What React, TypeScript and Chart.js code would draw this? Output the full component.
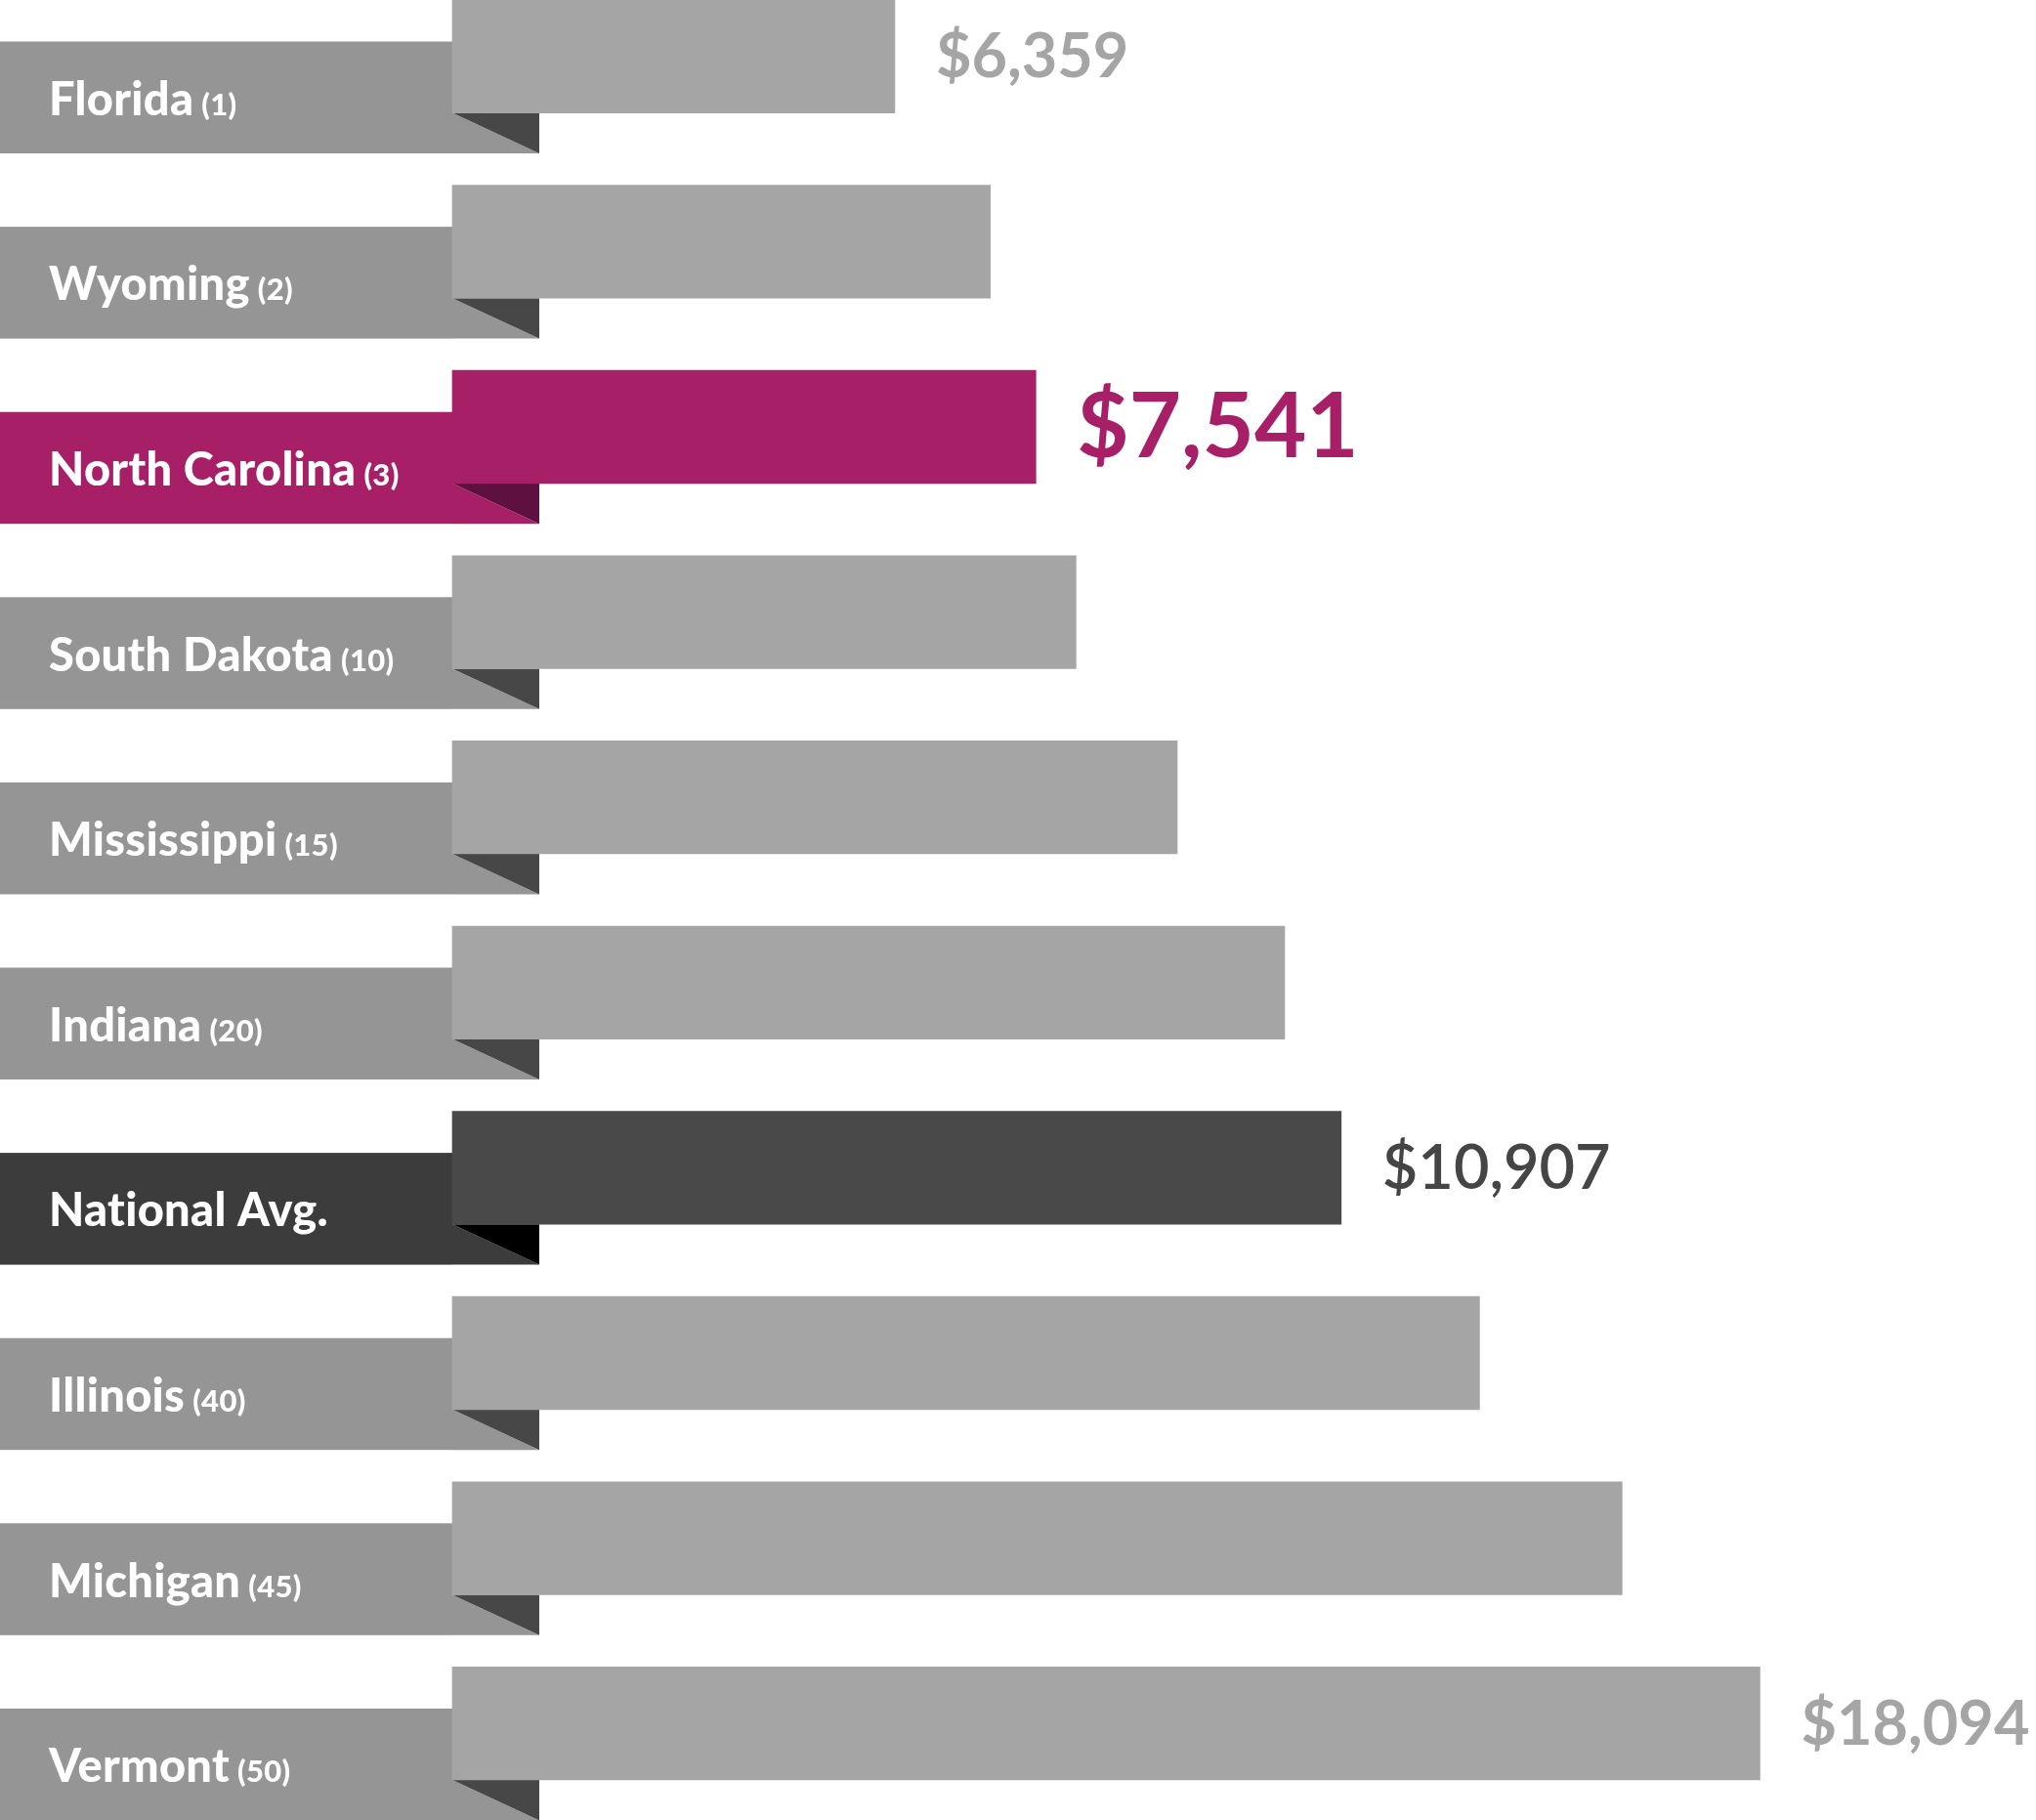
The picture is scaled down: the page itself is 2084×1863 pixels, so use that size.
import { useEffect, useRef } from "react";
import { Chart, registerables } from "chart.js";

Chart.register(...registerables);

// Annual cost per state, ordered by rank (National Avg. sits between ranks 20 and 40)
const states = [
  "Florida",
  "Wyoming",
  "North Carolina",
  "South Dakota",
  "Mississippi",
  "Indiana",
  "National Avg.",
  "Illinois",
  "Michigan",
  "Vermont",
];
const ranks = ["(1)", "(2)", "(3)", "(10)", "(15)", "(20)", "", "(40)", "(45)", "(50)"];
const costs = [6359, 7137, 7541, 7916, 8946, 10187, 10907, 12892, 15316, 18094];
// rows whose dollar amount is printed beside the bar
const labeledRows = [0, 2, 6, 9];
// row styling: regular state, highlighted state, national average
const rowKinds = ["state", "state", "focus", "state", "state", "state", "average", "state", "state", "state"];

type Kind = "state" | "focus" | "average";

const palette: Record<Kind, { bar: string; band: string; fold: string; value: string; valueFont: string }> = {
  state: { bar: "#a5a5a5", band: "#959595", fold: "#474747", value: "#a5a5a5", valueFont: "700 63px Lato" },
  focus: { bar: "#a71f67", band: "#a71f67", fold: "#5e1140", value: "#a71f67", valueFont: "700 92px Lato" },
  average: { bar: "#494949", band: "#3c3c3c", fold: "#000000", value: "#454545", valueFont: "600 63px Lato" },
};

const BAR_THICKNESS = 115.6;
const BAND_TOP = -15.3; // band offset from bar centre
const BAND_BOTTOM = 99.2;
const FOLD_WIDTH = 89;
const VALUE_GAP = 42;

const formatMoney = (v: number) => "$" + v.toLocaleString("en-US");

const ribbonPlugin = {
  id: "ribbons",
  beforeDatasetsDraw(chart: any) {
    const ctx: CanvasRenderingContext2D = chart.ctx;
    const left = chart.chartArea.left;
    const meta = chart.getDatasetMeta(0);
    ctx.save();
    meta.data.forEach((bar: any, i: number) => {
      const k = rowKinds[i] as Kind;
      const c = palette[k];
      const yc = bar.y;
      const half = BAR_THICKNESS / 2;
      // label band behind the bar start
      ctx.fillStyle = c.band;
      ctx.fillRect(0, yc + BAND_TOP, left, BAND_BOTTOM - BAND_TOP);
      // folded corner under the bar
      ctx.beginPath();
      ctx.moveTo(left, yc + half);
      ctx.lineTo(left, yc + BAND_BOTTOM);
      ctx.lineTo(left + FOLD_WIDTH, yc + BAND_BOTTOM);
      ctx.closePath();
      ctx.fill();
      ctx.fillStyle = c.fold;
      ctx.beginPath();
      ctx.moveTo(left, yc + half);
      ctx.lineTo(left + FOLD_WIDTH, yc + half);
      ctx.lineTo(left + FOLD_WIDTH, yc + BAND_BOTTOM);
      ctx.closePath();
      ctx.fill();

      // state name and rank
      const baseline = yc + 60;
      ctx.fillStyle = "#ffffff";
      ctx.textBaseline = "alphabetic";
      ctx.textAlign = "left";
      (ctx as any).letterSpacing = "0.3px";
      ctx.font = "900 47px Lato";
      ctx.fillText(states[i], 50, baseline);
      if (ranks[i]) {
        const w = ctx.measureText(states[i]).width;
        ctx.font = "900 31px Lato";
        ctx.fillText(ranks[i], 50 + w + 8, baseline);
      }
    });
    ctx.restore();
  },
  afterDatasetsDraw(chart: any) {
    const ctx: CanvasRenderingContext2D = chart.ctx;
    const meta = chart.getDatasetMeta(0);
    ctx.save();
    labeledRows.forEach((i) => {
      const bar = meta.data[i];
      const c = palette[rowKinds[i] as Kind];
      const size = parseFloat(c.valueFont.split(" ")[1]);
      ctx.font = c.valueFont;
      ctx.fillStyle = c.value;
      ctx.textAlign = "left";
      ctx.textBaseline = "alphabetic";
      ctx.fillText(formatMoney(costs[i]), bar.x + VALUE_GAP, bar.y + size * 0.34);
    });
    ctx.restore();
  },
};

export default function App() {
  const canvasRef = useRef<HTMLCanvasElement | null>(null);

  useEffect(() => {
    const canvas = canvasRef.current;
    if (!canvas) return;
    const chart = new Chart(canvas, {
      type: "bar",
      data: {
        labels: states,
        datasets: [
          {
            data: costs,
            backgroundColor: rowKinds.map((k) => palette[k as Kind].bar),
            borderWidth: 0,
            barThickness: BAR_THICKNESS,
            clip: false as any,
          },
        ],
      },
      options: {
        indexAxis: "y",
        responsive: false,
        animation: false,
        devicePixelRatio: 1,
        layout: { padding: { left: 463, right: 0, top: 57.8, bottom: 98.8 } },
        scales: {
          x: {
            type: "logarithmic",
            min: 3725,
            max: 25260,
            bounds: "data",
            display: false,
          },
          y: {
            type: "category",
            offset: false,
            display: false,
          },
        },
        plugins: {
          legend: { display: false },
          tooltip: { enabled: false },
        },
      },
      plugins: [ribbonPlugin],
    });
    return () => chart.destroy();
  }, []);

  return (
    <div style={{ position: "fixed", left: 0, top: 0, width: 2084, height: 1863, background: "#ffffff" }}>
      <canvas ref={canvasRef} width={2084} height={1863} style={{ display: "block" }} />
    </div>
  );
}
